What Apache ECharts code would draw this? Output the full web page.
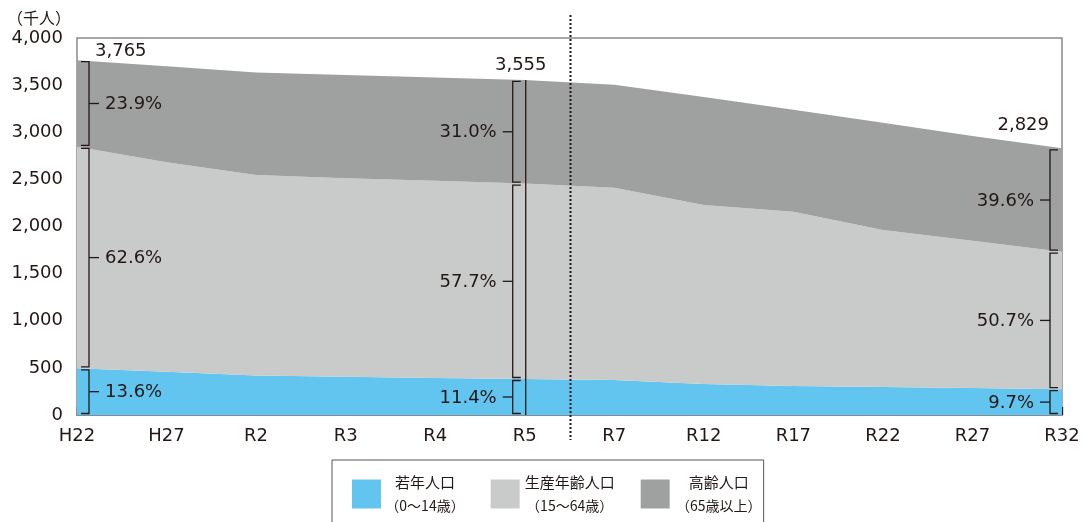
<!DOCTYPE html>
<html>
<head>
<meta charset="utf-8">
<script src="https://cdn.jsdelivr.net/npm/echarts@6/dist/echarts.min.js"></script>
<style>
html,body{margin:0;padding:0;background:#fff;}
#chart{width:1087px;height:522px;}
</style>
</head>
<body>
<div id="chart"></div>
<script>
// ---- data ----
const categories = ['H22','H27','R2','R3','R4','R5','R7','R12','R17','R22','R27','R32'];
const youth    = [495, 460, 420, 405, 393, 382, 371, 330, 308, 297, 286, 274];
const working  = [2350, 2221, 2126, 2106, 2093, 2073, 2041, 1898, 1849, 1666, 1563, 1459];
const elderly  = [920, 1019, 1087, 1097, 1096, 1100, 1093, 1147, 1083, 1137, 1111, 1096];
const seriesNames = ['若年人口', '生産年齢人口', '高齢人口'];
const seriesSub = ['（0～14歳）', '（15～64歳）', '（65歳以上）'];
const annotIndex = [0, 5, 11];
const totalText = ['3,765', '3,555', '2,829'];
const youthShare = ['13.6%', '11.4%', '9.7%'];
const workingShare = ['62.6%', '57.7%', '50.7%'];
const elderlyShare = ['23.9%', '31.0%', '39.6%'];
const dividerAfter = 5;
const yTitle = '（千人）';

// ---- styles ----
const TXT = '#231815';
const NUMFONT = 'DejaVu Sans';
const JPFONT = 'Noto Sans CJK JP';
const colors = ['#62c5f0', '#c9caca', '#9fa0a0'];
const totalLabelStyle = [
  {dx: 18, dy: -9, align: 'left'},
  {dx: -4, dy: -15, align: 'center'},
  {dx: -13, dy: -23, align: 'right'}
];

const chart = echarts.init(document.getElementById('chart'));

function bracketRender(params, api) {
  const k = params.dataIndex;
  const idx = annotIndex[k];
  const y0v = 0, y1v = youth[idx], y2v = youth[idx] + working[idx], y3v = y2v + elderly[idx];
  const p0 = api.coord([idx, y0v]);
  const x0 = p0[0];
  const py = v => api.coord([idx, v])[1];
  const ys = [py(y0v), py(y1v), py(y2v), py(y3v)];
  const labels = [youthShare[k], workingShare[k], elderlyShare[k]];
  const s = idx === 0 ? 1 : -1;
  const xv = x0 + s * 12;
  const xe = x0 + s * 4;
  const children = [];
  const ls = {stroke: TXT, lineWidth: 1.3, fill: null};
  for (let j = 0; j < 3; j++) {
    const yb = ys[j] - 1.5, yt = ys[j + 1] + 1.5;
    children.push({type: 'polyline', shape: {points: [[xe, yt], [xv, yt], [xv, yb], [xe, yb]]}, style: ls});
    const mid = (yb + yt) / 2;
    children.push({type: 'line', shape: {x1: xv, y1: mid, x2: xv + s * 10, y2: mid}, style: ls});
    children.push({type: 'text', style: {text: labels[j], x: xv + s * 16, y: mid + 1, align: s > 0 ? 'left' : 'right', verticalAlign: 'middle', fill: TXT, font: '18px ' + NUMFONT}});
  }
  if (idx !== 0 && idx !== categories.length - 1) {
    children.push({type: 'line', shape: {x1: x0 + 1, y1: ys[3], x2: x0 + 1, y2: ys[0]}, style: {stroke: TXT, lineWidth: 1.3}});
  }
  const ts = totalLabelStyle[k];
  children.push({type: 'text', style: {text: totalText[k], x: x0 + ts.dx, y: ys[3] + ts.dy, align: ts.align, verticalAlign: 'middle', fill: TXT, font: '18px ' + NUMFONT}});
  return {type: 'group', children: children};
}

function dividerRender(params, api) {
  const a = api.coord([dividerAfter, 0]);
  const b = api.coord([dividerAfter + 1, 0]);
  const x = Math.round((a[0] + b[0]) / 2) + 0.5;
  const cs = params.coordSys;
  return {type: 'line', shape: {x1: x, y1: cs.y - 23, x2: x, y2: cs.y + cs.height + 25},
    style: {stroke: TXT, lineWidth: 2, lineDash: [2, 2]}};
}

const legendWidths = {'若年人口': 'a', '生産年齢人口': 'b', '高齢人口': 'c'};

const option = {
  animation: false,
  backgroundColor: '#fff',
  grid: {left: 77, right: 25, top: 38, bottom: 107, show: true, borderColor: '#8a8a8a', borderWidth: 1.5},
  title: {text: yTitle, left: 2, top: 5, textStyle: {fontFamily: JPFONT, fontSize: 16, fontWeight: 'normal', color: TXT}},
  legend: {
    left: 332, top: 460,
    data: seriesNames,
    icon: 'rect', itemWidth: 29, itemHeight: 29, itemGap: 26,
    borderColor: '#555', borderWidth: 1,
    padding: [10, 1, 40, 20],
    selectedMode: false,
    formatter: function (name) {
      const i = seriesNames.indexOf(name);
      const key = legendWidths[name];
      return '{' + key + '|' + name + '}\n{' + key + 's|' + seriesSub[i] + '}';
    },
    textStyle: {
      fontFamily: JPFONT, fontSize: 15, color: TXT, lineHeight: 24,
      rich: {
        a: {width: 78, align: 'center', fontFamily: JPFONT, fontSize: 15, color: TXT, lineHeight: 24},
        b: {width: 90, align: 'center', fontFamily: JPFONT, fontSize: 15, color: TXT, lineHeight: 24},
        c: {width: 88, align: 'center', fontFamily: JPFONT, fontSize: 15, color: TXT, lineHeight: 24},
        as: {width: 78, align: 'center', fontFamily: JPFONT, fontSize: 14, color: TXT, lineHeight: 24},
        bs: {width: 90, align: 'center', fontFamily: JPFONT, fontSize: 14, color: TXT, lineHeight: 24},
        cs: {width: 88, align: 'center', fontFamily: JPFONT, fontSize: 14, color: TXT, lineHeight: 24}
      }
    }
  },
  xAxis: {
    type: 'category', data: categories, boundaryGap: false,
    axisLine: {lineStyle: {color: '#8a8a8a', width: 2}},
    axisTick: {inside: true, length: 8, lineStyle: {color: TXT, width: 1.3}},
    axisLabel: {color: TXT, fontFamily: NUMFONT, fontSize: 18, margin: 12, interval: 0},
    splitLine: {show: false}
  },
  yAxis: {
    type: 'value', min: 0, max: 4000, interval: 500,
    axisLine: {show: false}, axisTick: {show: false}, splitLine: {show: false},
    axisLabel: {color: TXT, fontFamily: NUMFONT, fontSize: 18, margin: 14,
      formatter: v => v.toLocaleString('en-US')}
  },
  series: [
    {name: seriesNames[0], type: 'line', stack: 'p', data: youth, symbol: 'none', lineStyle: {width: 0}, areaStyle: {color: colors[0], opacity: 1}, itemStyle: {color: colors[0]}},
    {name: seriesNames[1], type: 'line', stack: 'p', data: working, symbol: 'none', lineStyle: {width: 0}, areaStyle: {color: colors[1], opacity: 1}, itemStyle: {color: colors[1]}},
    {name: seriesNames[2], type: 'line', stack: 'p', data: elderly, symbol: 'none', lineStyle: {width: 0}, areaStyle: {color: colors[2], opacity: 1}, itemStyle: {color: colors[2]}},
    {type: 'custom', name: 'brackets', renderItem: bracketRender, clip: false, z: 10, silent: true,
      data: annotIndex.map((idx, k) => [idx, 0, k])},
    {type: 'custom', name: 'divider', renderItem: dividerRender, clip: false, z: 11, silent: true,
      data: [[dividerAfter, 0]]}
  ]
};
chart.setOption(option);
</script>
</body>
</html>
